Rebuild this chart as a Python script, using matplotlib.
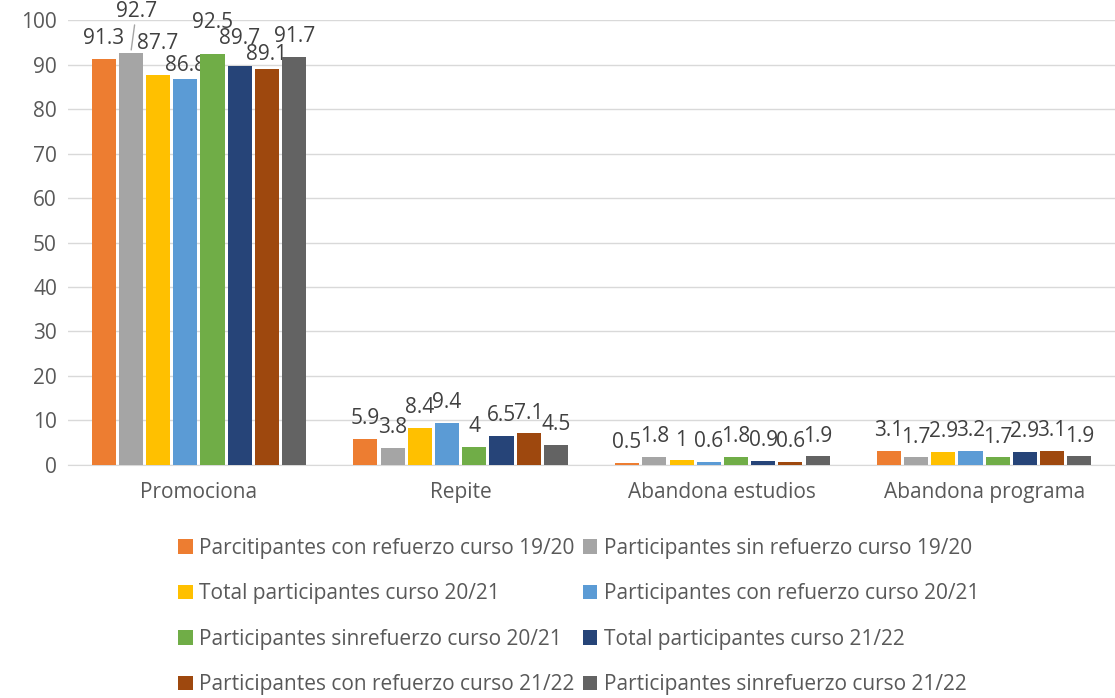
import matplotlib.pyplot as plt
import numpy as np

plt.rcParams['font.family'] = ['Open Sans', 'DejaVu Sans']

categorias = ["Promociona", "Repite", "Abandona estudios", "Abandona programa"]
series = [
    "Parcitipantes con refuerzo curso 19/20",
    "Participantes sin refuerzo curso 19/20",
    "Total participantes curso 20/21",
    "Participantes con refuerzo curso 20/21",
    "Participantes sinrefuerzo curso 20/21",
    "Total participantes curso 21/22",
    "Participantes con refuerzo curso 21/22",
    "Participantes sinrefuerzo curso 21/22",
]
valores = [
    [91.3, 5.9, 0.5, 3.1],
    [92.7, 3.8, 1.8, 1.7],
    [87.7, 8.4, 1, 2.9],
    [86.8, 9.4, 0.6, 3.2],
    [92.5, 4, 1.8, 1.7],
    [89.7, 6.5, 0.9, 2.9],
    [89.1, 7.1, 0.6, 3.1],
    [91.7, 4.5, 1.9, 1.9],
]
colores = ["#ED7D31", "#A5A5A5", "#FFC000", "#5B9BD5",
           "#70AD47", "#264478", "#9E480E", "#636363"]

# separación vertical (pt) de las etiquetas de "Promociona", escalonadas como en Excel
desplaz_promo = [7, 22, 15, 2, 15, 12, 3, 7]

gris = "#595959"
fig = plt.figure(figsize=(11.15, 6.98), dpi=100)
ax = fig.add_axes([0.061, 0.334, 0.939, 0.637])

x = np.arange(len(categorias))
paso = 0.104
ancho = 0.092
barras = []
for i, (nombre, vals) in enumerate(zip(series, valores)):
    pos = x + (i - 3.5) * paso
    b = ax.bar(pos, vals, ancho, color=colores[i], label=nombre, zorder=3)
    barras.append(b)
    for j, (p, v) in enumerate(zip(pos, vals)):
        dy = desplaz_promo[i] if j == 0 else 7
        flecha = None
        dx = 0
        if i == 1 and j == 0:  # 92.7 con línea guía
            dx = 4
            flecha = dict(arrowstyle="-", color="#A5A5A5", lw=1,
                          shrinkA=0, shrinkB=2)
        ax.annotate(f"{v:g}", xy=(p, v), xytext=(dx, dy),
                    textcoords="offset points", ha="center", va="bottom",
                    fontsize=15, color="#404040", arrowprops=flecha)

ax.set_ylim(0, 100)
ax.set_xlim(-0.5, 3.5)
ax.set_yticks(range(0, 101, 10))
ax.set_xticks(x)
ax.set_xticklabels(categorias)
ax.grid(axis="y", color="#D9D9D9", linewidth=1, zorder=0)
for s in ["top", "right", "left"]:
    ax.spines[s].set_visible(False)
ax.spines["bottom"].set_color("#D9D9D9")
ax.tick_params(axis="both", length=0, labelsize=15, colors=gris, pad=8)
ax.tick_params(axis="x", pad=12)

orden = [0, 2, 4, 6, 1, 3, 5, 7]
fig.legend([barras[k] for k in orden], [series[k] for k in orden],
           loc="upper left", bbox_to_anchor=(0.143, 0.256), ncol=2,
           frameon=False, fontsize=15, labelcolor=gris,
           handlelength=0.7, handleheight=0.7, handletextpad=0.3,
           columnspacing=0.4, labelspacing=1.17)

fig.savefig("out.png", dpi=100)
